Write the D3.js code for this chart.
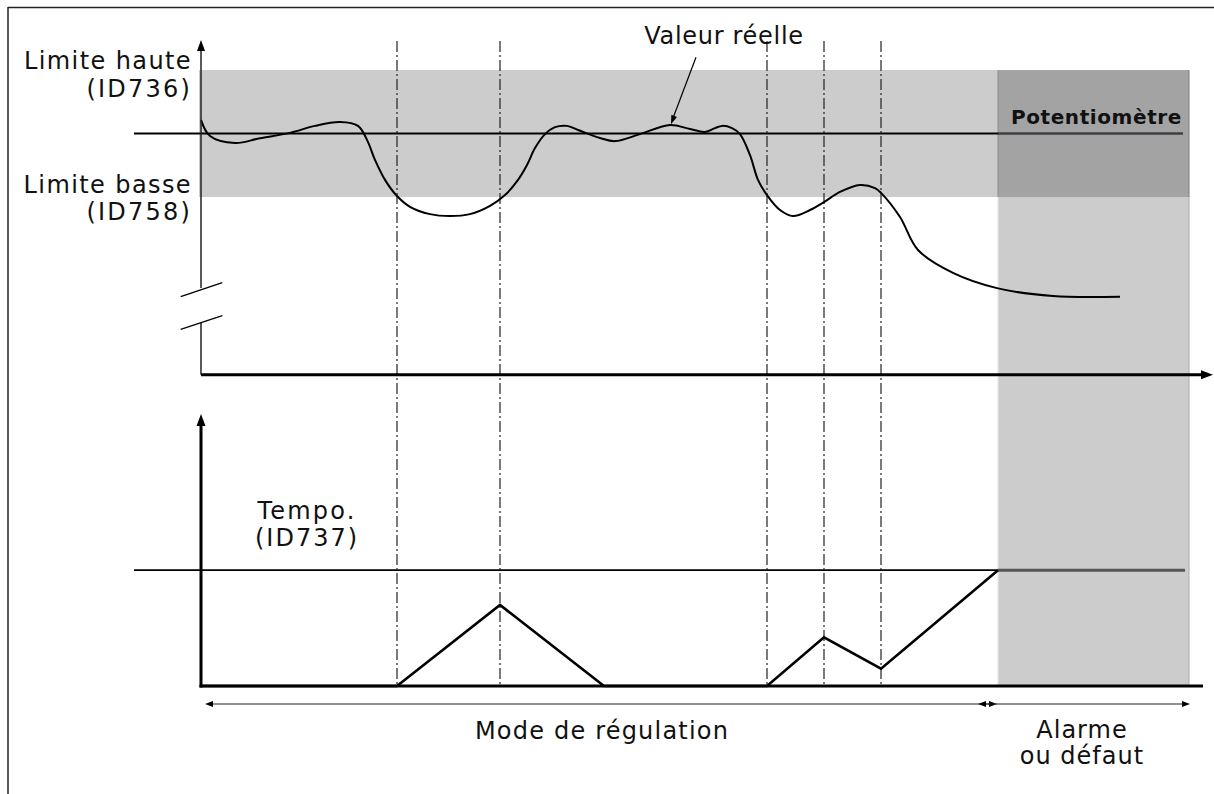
<!DOCTYPE html>
<html><head><meta charset="utf-8">
<script src="https://cdn.jsdelivr.net/npm/d3@7/dist/d3.min.js"></script>
<style>
body{margin:0;background:#fff;}
text{font-family:"DejaVu Sans",Verdana,sans-serif;fill:#111;}
</style></head>
<body><svg id="c" width="1214" height="794"></svg>
<script>
// ---- data ----
const highLimit = 80, lowLimit = 40, setpoint = 60;
const eventTimes = [19.6, 29.9, 56.6, 62.3, 68.0];
const alarmStart = 79.7, alarmEnd = 98.8;
const actualT = [0,0.9,3.4,5.9,8.9,11.4,13.9,15.7,16.6,17.4,18.4,19.6,20.9,22.9,24.9,26.9,28.9,30.4,31.7,32.6,33.4,34.4,35.4,36.6,37.7,39.9,41.4,43.9,46.9,48.9,50.4,51.4,52.1,53.1,53.9,54.9,55.7,56.6,57.9,59.2,60.9,62.3,63.9,65.9,67.4,68.0,69.9,71.7,75.2,79.6,85.2,91.9];
const actualV = [64.3,59.2,57.0,58.5,60.2,62.4,63.6,62.4,58.0,51.7,45.4,40.3,36.9,34.6,34.0,34.6,37.2,40.6,45.4,50.1,55.4,59.8,62.0,62.4,61.1,58.6,57.6,59.8,62.7,61.4,60.5,61.7,62.4,61.7,59.8,53.2,45.4,40.6,35.9,34.0,35.9,38.4,41.6,43.8,42.8,41.3,33.7,23.3,16.1,11.3,8.8,8.6];
const delayLevel = 10;
const timerT = [0, 19.6, 29.9, 40.3, 56.6, 62.3, 68.0, 79.7];
const timerV = [0, 0, 7, 0, 0, 4.2, 1.5, 10];
const labels = {
  high: ["Limite haute", "(ID736)"],
  low: ["Limite basse", "(ID758)"],
  actual: "Valeur réelle",
  pot: "Potentiomètre",
  delay: ["Tempo.", "(ID737)"],
  mode: "Mode de régulation",
  alarm: ["Alarme", "ou défaut"]
};

// ---- scales ----
const svg = d3.select("#c");
const x = d3.scaleLinear().domain([0, 100]).range([201, 1201]);
const y = d3.scaleLinear().domain([-16, 90]).range([374.8, 38.25]);
const yT = d3.scaleLinear().domain([0, 23.4]).range([686, 415]);
const fs = 24;

// frame (top and left edges)
svg.append("line").attr("x1",8).attr("x2",1214).attr("y1",7.5).attr("y2",7.5).attr("stroke","#222").attr("stroke-width",1.5);
svg.append("line").attr("x1",8).attr("x2",8).attr("y1",7).attr("y2",794).attr("stroke","#222").attr("stroke-width",1.5);

// gray regions
svg.append("rect").attr("x",x(0)-2).attr("y",y(highLimit)).attr("width",x(alarmStart)-x(0)+2).attr("height",y(lowLimit)-y(highLimit)).attr("fill","#cccccc");
svg.append("rect").attr("x",x(alarmStart)).attr("y",y(highLimit)).attr("width",x(alarmEnd)-x(alarmStart)).attr("height",y(lowLimit)-y(highLimit)).attr("fill","#a3a3a3");
svg.append("rect").attr("x",x(alarmStart)).attr("y",y(lowLimit)).attr("width",x(alarmEnd)-x(alarmStart)).attr("height",yT(0)-y(lowLimit)).attr("fill","#cccccc");
svg.append("line").attr("x1",x(alarmEnd)).attr("x2",x(alarmEnd)).attr("y1",y(highLimit)).attr("y2",y(lowLimit)).attr("stroke","#85797f").attr("stroke-width",1);
svg.append("line").attr("x1",x(alarmEnd)).attr("x2",x(alarmEnd)).attr("y1",y(lowLimit)).attr("y2",yT(0)).attr("stroke","#aaa").attr("stroke-width",1);
svg.append("line").attr("x1",x(alarmStart)).attr("x2",x(alarmStart)).attr("y1",y(lowLimit)).attr("y2",yT(0)).attr("stroke","#e6e6e6").attr("stroke-width",1.2);
svg.append("line").attr("x1",x(alarmStart)).attr("x2",x(alarmStart)).attr("y1",y(highLimit)).attr("y2",y(lowLimit)).attr("stroke","#8f8f8f").attr("stroke-width",1);

// setpoint line
svg.append("line").attr("x1",134).attr("x2",x(alarmStart)).attr("y1",y(setpoint)).attr("y2",y(setpoint)).attr("stroke","#000").attr("stroke-width",2);
svg.append("line").attr("x1",x(alarmStart)).attr("x2",x(98.2)).attr("y1",y(setpoint)).attr("y2",y(setpoint)).attr("stroke","#3c3f44").attr("stroke-width",2.5);

// delay level line
svg.append("line").attr("x1",134).attr("x2",x(alarmStart)).attr("y1",yT(delayLevel)).attr("y2",yT(delayLevel)).attr("stroke","#000").attr("stroke-width",1.8);
svg.append("line").attr("x1",x(alarmStart)).attr("x2",x(98.4)).attr("y1",yT(delayLevel)).attr("y2",yT(delayLevel)).attr("stroke","#555").attr("stroke-width",3);

// event dash-dot lines
svg.selectAll("line.ev").data(eventTimes).join("line").attr("class","ev")
  .attr("x1",d=>x(d)).attr("x2",d=>x(d)).attr("y1",41).attr("y2",yT(0))
  .attr("stroke","#222").attr("stroke-width",1.2).attr("stroke-dasharray","11,3,2,3");

// actual value curve
const pts = actualT.map((t,i)=>[t, actualV[i]]);
svg.append("path").attr("d", d3.line().x(d=>x(d[0])).y(d=>y(d[1])).curve(d3.curveCatmullRom.alpha(0.5))(pts))
  .attr("fill","none").attr("stroke","#000").attr("stroke-width",2);

// timer line
const tpts = timerT.map((t,i)=>[t, timerV[i]]);
svg.append("path").attr("d", d3.line().x(d=>x(d[0])).y(d=>yT(d[1]))(tpts))
  .attr("fill","none").attr("stroke","#000").attr("stroke-width",2.6).attr("stroke-linejoin","miter");

// top axes
svg.append("line").attr("x1",x(0)).attr("x2",x(0)).attr("y1",y(-16)).attr("y2",323).attr("stroke","#222").attr("stroke-width",1.5);
svg.append("line").attr("x1",x(0)).attr("x2",x(0)).attr("y1",288).attr("y2",48).attr("stroke","#222").attr("stroke-width",1.5);
svg.append("path").attr("d",`M${x(0)},40 L${x(0)-4},51 L${x(0)+4},51 Z`).attr("fill","#000");
// break marks
svg.append("line").attr("x1",180.7).attr("y1",296.7).attr("x2",222.3).attr("y2",282.7).attr("stroke","#000").attr("stroke-width",1.3);
svg.append("line").attr("x1",180.7).attr("y1",329.3).attr("x2",222.3).attr("y2",315.7).attr("stroke","#000").attr("stroke-width",1.3);
svg.append("line").attr("x1",x(0)).attr("x2",1203).attr("y1",y(-16)).attr("y2",y(-16)).attr("stroke","#000").attr("stroke-width",3);
svg.append("path").attr("d",`M1213,${y(-16)} L1201,${y(-16)-4.5} L1201,${y(-16)+4.5} Z`).attr("fill","#000");

// bottom axes
svg.append("line").attr("x1",x(0)).attr("x2",x(0)).attr("y1",yT(0)+1.5).attr("y2",424).attr("stroke","#000").attr("stroke-width",3);
svg.append("path").attr("d",`M${x(0)},414 L${x(0)-4.5},426 L${x(0)+4.5},426 Z`).attr("fill","#000");
svg.append("line").attr("x1",x(0)-1.5).attr("x2",1203).attr("y1",yT(0)).attr("y2",yT(0)).attr("stroke","#000").attr("stroke-width",3);

// span arrows
function span(x1,x2,yy){
  svg.append("line").attr("x1",x1+6).attr("x2",x2-6).attr("y1",yy).attr("y2",yy).attr("stroke","#222").attr("stroke-width",1.2);
  svg.append("path").attr("d",`M${x1},${yy} L${x1+8},${yy-3} L${x1+8},${yy+3} Z`).attr("fill","#000");
  svg.append("path").attr("d",`M${x2},${yy} L${x2-8},${yy-3} L${x2-8},${yy+3} Z`).attr("fill","#000");
}
span(205, x(alarmStart)-1, 704);
span(x(alarmStart)-20, x(alarmEnd)+1, 704);

// annotation arrow
const ax1 = x(49.5), ay1 = y(84), ax2 = x(47.0), ay2 = y(62.9);
svg.append("line").attr("x1",ax1).attr("y1",ay1).attr("x2",ax2+1.2).attr("y2",ay2-4).attr("stroke","#000").attr("stroke-width",1.2);
{
  const ang = Math.atan2(ay2-ay1, ax2-ax1), L=9, W=3;
  const bx = ax2 - L*Math.cos(ang), by = ay2 - L*Math.sin(ang);
  const px = -Math.sin(ang)*W, py = Math.cos(ang)*W;
  svg.append("path").attr("d",`M${ax2},${ay2} L${bx+px},${by+py} L${bx-px},${by-py} Z`).attr("fill","#000");
}

// texts
function txt(s, xx, yy, anchor, size, weight, ls){
  svg.append("text").attr("x",xx).attr("y",yy).attr("text-anchor",anchor)
    .style("font-size",size+"px").style("font-weight",weight||"normal")
    .style("letter-spacing",(ls===undefined?0.9:ls)+"px").text(s);
}
txt(labels.high[0], 192, 69, "end", fs, "normal", 1.4);
txt(labels.high[1], 192, 97, "end", fs, "normal", 2.2);
txt(labels.low[0], 192, 193, "end", fs, "normal", 1.4);
txt(labels.low[1], 192, 220, "end", fs, "normal", 2.2);
txt(labels.actual, 724, 44, "middle", fs, "normal", 0.7);
txt(labels.pot, 1182, 124, "end", 20, "bold", 0.6);
txt(labels.delay[0], 307, 519, "middle", fs, "normal", 2.2);
txt(labels.delay[1], 307, 546, "middle", fs, "normal", 2.0);
txt(labels.mode, 602, 739, "middle", fs, "normal", 1.2);
txt(labels.alarm[0], 1082, 738, "middle", fs, "normal", 1.0);
txt(labels.alarm[1], 1082, 764, "middle", fs, "normal", 1.0);
</script></body></html>
